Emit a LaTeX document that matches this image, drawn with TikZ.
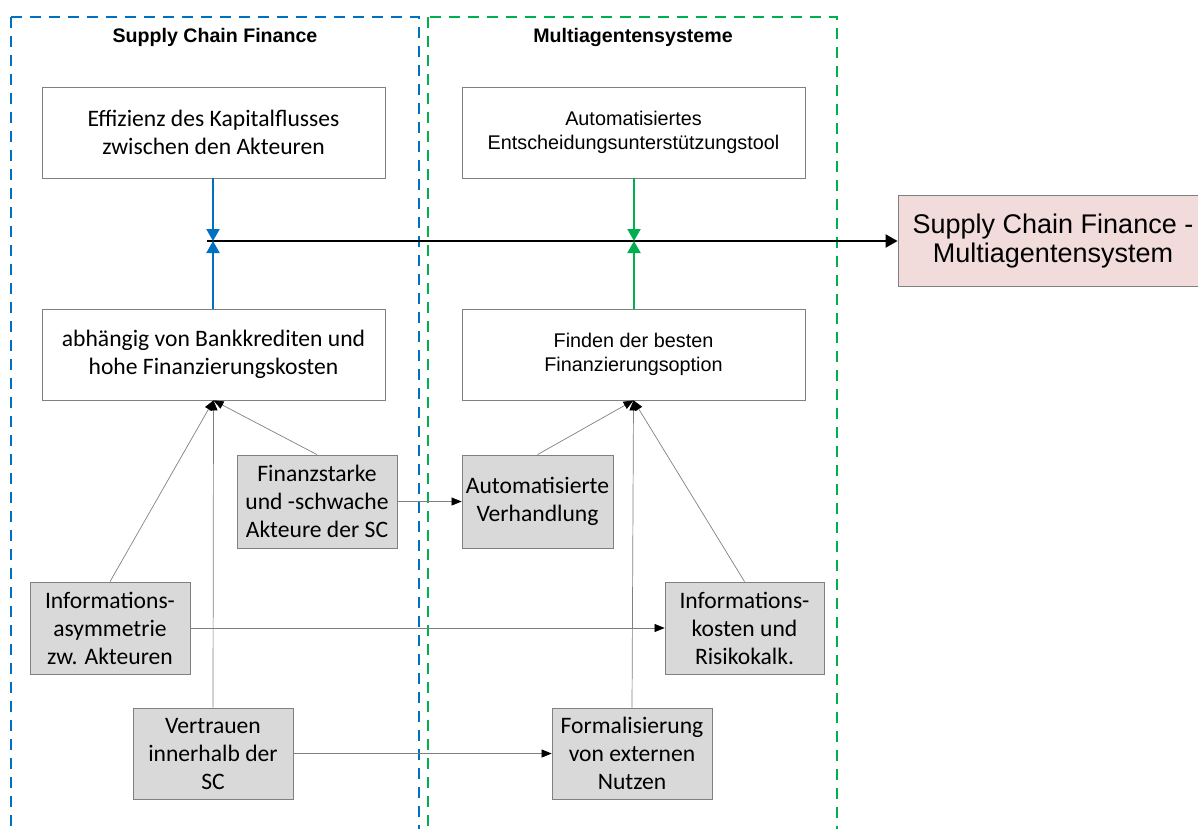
\documentclass[tikz,border=0pt]{standalone}
\usepackage{fontspec}
\setmainfont{Carlito}
\newfontfamily\arialfont{Liberation Sans}
\usepackage{tikz}
\usetikzlibrary{arrows.meta}

\definecolor{sfblue}{RGB}{0,112,192}
\definecolor{masgreen}{RGB}{0,176,80}
\definecolor{boxgrey}{RGB}{217,217,217}
\definecolor{linegrey}{RGB}{128,128,128}
\definecolor{resultpink}{RGB}{242,220,219}

\begin{document}
\begin{tikzpicture}[x=1pt,y=-1pt,>=Stealth,
    frame/.style={line width=1.6pt,dash pattern=on 11pt off 8pt},
    title/.style={font=\arialfont\bfseries\fontsize{19.6}{23}\selectfont},
    goalbox/.style={draw=linegrey,fill=white,line width=0.8pt,align=center,
      minimum width=343pt,minimum height=91pt,inner sep=0pt},
    calibri/.style={font=\fontsize{23.6}{28}\selectfont},
    arial/.style={font=\arialfont\fontsize{19.8}{24}\selectfont},
    factor/.style={draw=linegrey,fill=boxgrey,line width=0.8pt,align=center,
      minimum width=160pt,minimum height=92pt,inner sep=0pt,
      font=\fontsize{23.6}{28}\selectfont},
    link/.style={linegrey,line width=0.7pt,-{Triangle[length=10pt,width=8pt,color=black]}},
    bigarrow/.style={line width=2pt,-{Triangle[length=12pt,width=13pt]}}]
  \useasboundingbox (0,0) rectangle (1198,828);

  % the two dashed areas
  \draw[frame,sfblue] (11,17) rectangle (419,840);
  \draw[frame,masgreen] (428,17) rectangle (837,840);
  \node[title] (sftitle) at (215,37) {Supply Chain Finance};
  \node[title] (mastitle) at (633,37) {Multiagentensysteme};

  % upper row
  \node[goalbox,calibri] (effizienz) at (213.5,132.5) {Effizienz des Kapitalflusses\\zwischen den Akteuren};
  \node[goalbox,arial] (tool) at (633.5,132.5) {Automatisiertes\\Entscheidungsunterst\"utzungstool};

  % lower row
  \node[goalbox,calibri] (abhaengig) at (213.5,354.5) {abh\"angig von Bankkrediten und\\hohe Finanzierungskosten};
  \node[goalbox,arial] (finden) at (633.5,354.5) {Finden der besten\\Finanzierungsoption};

  % result
  \node[draw=linegrey,fill=resultpink,line width=0.8pt,align=center,
    minimum width=310pt,minimum height=91pt,inner sep=0pt,
    font=\arialfont\fontsize{27}{29}\selectfont] (result) at (1053,241)
    {Supply Chain Finance -\\Multiagentensystem};

  % factors
  \node[factor,minimum height=93pt] (finanzstark) at (317,501.5) {Finanzstarke\\und -schwache\\Akteure der SC};
  \node[factor,minimum width=151pt,minimum height=93pt] (verhandlung) at (537.5,501.5) {Automatisierte\\Verhandlung};
  \node[factor] (asymmetrie) at (110,628) {Informations-\\asymmetrie\\zw. Akteuren};
  \node[factor,minimum width=159pt] (kosten) at (744.5,628) {Informations-\\kosten und\\Risikokalk.};
  \node[factor,minimum height=91pt] (vertrauen) at (213,753.5) {Vertrauen\\innerhalb der\\SC};
  \node[factor,minimum height=91pt] (formal) at (632,753.5) {Formalisierung\\von externen\\Nutzen};

  % main line to the result
  \coordinate (start) at (207,241);
  \coordinate (sfmeet) at (213,241);
  \coordinate (masmeet) at (634,241);
  \draw[bigarrow] (start) -- (start -| result.west);
  \draw[bigarrow,sfblue] (effizienz.south -| sfmeet) -- (sfmeet);
  \draw[bigarrow,sfblue] (abhaengig.north -| sfmeet) -- (sfmeet);
  \draw[bigarrow,masgreen] (tool.south -| masmeet) -- (masmeet);
  \draw[bigarrow,masgreen] (finden.north -| masmeet) -- (masmeet);

  % factor links
  \draw[link] (asymmetrie.north) -- (abhaengig.south);
  \draw[link] (vertrauen.north) -- (abhaengig.south);
  \draw[link] (finanzstark.north) -- (abhaengig.south);
  \draw[link] (verhandlung.north) -- (finden.south);
  \draw[link] (formal.north) -- (finden.south);
  \draw[link] (kosten.north) -- (finden.south);
  \draw[link] (finanzstark.east) -- (verhandlung.west);
  \draw[link] (asymmetrie.east) -- (kosten.west);
  \draw[link] (vertrauen.east) -- (formal.west);
\end{tikzpicture}
\end{document}
